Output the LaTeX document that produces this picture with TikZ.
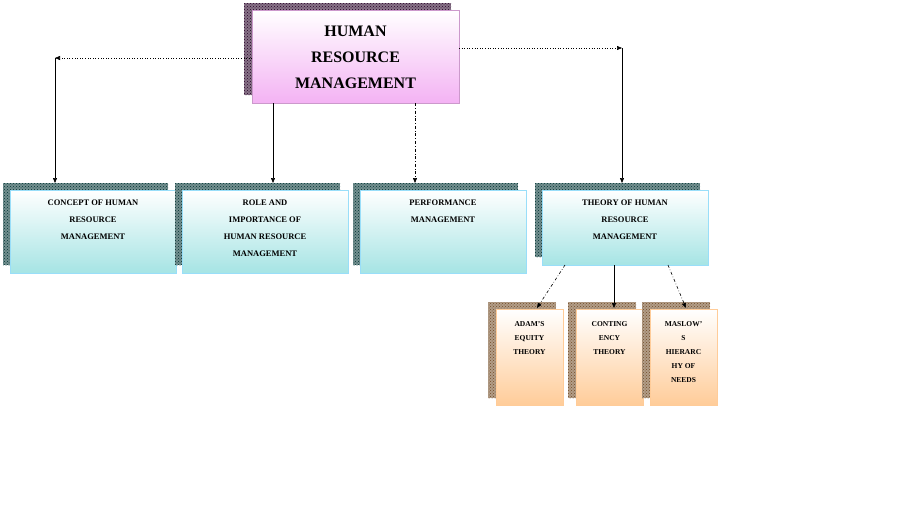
\documentclass[tikz,border=0pt]{standalone}
\usepackage{fontspec}
\setmainfont{Liberation Serif}
\usetikzlibrary{arrows.meta,patterns}
\begin{document}
\begin{tikzpicture}[x=1pt,y=-1pt,
  shad/.style={fill=#1!55,postaction={pattern=crosshatch dots,pattern color=#1}},
  lbl/.style={font=\bfseries\fontsize{8.5}{17}\selectfont,align=center,anchor=north},
  arr/.style={-{Triangle[length=5pt,width=4pt]},line width=0.6pt},
  dot/.style={arr,dotted}]
\useasboundingbox (0,0) rectangle (898,509);
% top box
\fill[shad=violet!30!black] (244,3) rectangle (451,95);
\shade[top color=white,bottom color=violet!30!magenta!30,draw=violet!40] (252,10) rectangle (459,103);
\node[font=\bfseries\fontsize{16}{26}\selectfont,align=center] (hrm) at (355.5,57) {HUMAN\\RESOURCE\\MANAGEMENT};
\coordinate (hL) at (252,58); \coordinate (hR) at (459,48);
% second row
\foreach \x/\n/\t/\b in {10/c/{CONCEPT OF HUMAN\\RESOURCE\\MANAGEMENT}/273,182/r/{ROLE AND\\IMPORTANCE OF\\HUMAN RESOURCE\\MANAGEMENT}/273,360/p/{PERFORMANCE\\MANAGEMENT}/273,542/t/{THEORY OF HUMAN\\RESOURCE\\MANAGEMENT}/265}{
  \fill[shad=teal!40!black] (\x-7,183) rectangle (\x+158,\b-8);
  \shade[top color=white,bottom color=cyan!40!teal!35,draw=cyan!40] (\x,190) rectangle (\x+166,\b);
  \node[lbl] (\n) at (\x+83,196) {\t};
}
% small boxes
\foreach \x/\n/\t in {496/a/{ADAM'S\\EQUITY\\THEORY},576/k/{CONTING\\ENCY\\THEORY},650/m/{MASLOW'\\S\\HIERARC\\HY OF\\NEEDS}}{
  \fill[shad=brown!60!black] (\x-8,302) rectangle (\x+60,398);
  \shade[top color=white,bottom color=orange!40,draw=orange!40] (\x,309) rectangle (\x+67,405);
  \node[lbl,font=\bfseries\fontsize{7.5}{14}\selectfont] (\n) at (\x+33.5,318) {\t};
}
% connectors
\coordinate (lc) at (55,58); \coordinate (rc) at (622,48);
\draw[dot] (hL) -- (lc);
\draw[arr] (lc) -- (55,183);
\draw[arr] (273,103) -- (273,183);
\draw[arr,dashdotted] (415,103) -- (415,183);
\draw[dot] (hR) -- (rc);
\draw[arr] (rc) -- (622,183);
\draw[arr,dashdotted] (565,265) -- (537,308);
\draw[arr] (614,265) -- (614,308);
\draw[arr,dashdotted] (668,265) -- (686,308);
\end{tikzpicture}
\end{document}
